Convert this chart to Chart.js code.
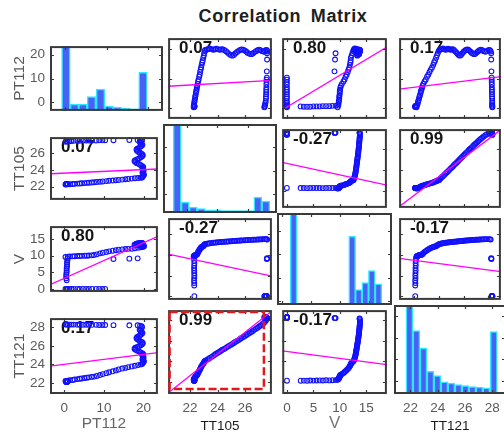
<!DOCTYPE html>
<html>
<head>
<meta charset="utf-8">
<title>Correlation Matrix</title>
<script src="https://cdn.jsdelivr.net/npm/chart.js@4.4.1/dist/chart.umd.min.js"></script>
<style>
  html, body { margin: 0; padding: 0; background: #fff; overflow: hidden; }
  #fig { position: relative; width: 504px; height: 436px; overflow: hidden; background: #fff; }
  #fig canvas { position: absolute; }
  #title {
    position: absolute; left: 0; top: 7px; width: 566px; text-align: center;
    font: bold 18px "Liberation Sans", Arial, sans-serif; line-height: 18px;
    letter-spacing: 0.6px; word-spacing: 4px; color: #1e1e1e;
  }
</style>
</head>
<body>
<div id="fig"><div id="title">Correlation Matrix</div></div>
<script>
const varNames = ['PT112', 'TT105', 'V', 'TT121'];
const axisMin = [-3.6, 20.4, -0.9, 20.8];
const axisMax = [23.6, 27.95, 18.9, 29.0];
const tickValues = [[0, 10, 20], [22, 24, 26], [0, 5, 10, 15], [22, 24, 26, 28]];

// one value per sample, same order in every array
const pt112 = [
  0.6, 0.6, 0.5, 0.5, 0.5, 0.6, 0.6, 0.6, 0.7, 0.7, 0.7, 0.8, 0.8,
  0.3, 0.9, 1.4, 2.1, 2.6, 3.3, 3.9, 4.4, 5.1, 5.7, 6.2, 6.9, 7.5,
  8.2, 9.0, 9.7, 10.6, 11.3, 12.2, 13.0, 13.7, 14.6, 15.4, 16.1, 17.0, 17.8, 18.6, 19.3,
  19.6, 19.8, 19.9, 20.1, 19.9, 19.7, 19.8, 20.0, 19.9, 19.7, 19.8, 19.9, 19.6, 19.2, 18.8,
  18.3, 17.9, 17.7, 17.9, 18.4, 18.9, 19.3, 19.6, 19.8, 19.7, 19.4, 19.0, 18.6, 18.3, 18.2,
  18.4, 18.8, 19.2, 19.5, 19.7, 19.5, 19.2, 19.0, 19.3, 19.6, 19.5, 19.1,
  18.5, 16.4, 12.4, 10.3, 9.6, 8.8, 8.0, 7.0, 6.2, 5.5, 4.7, 3.9, 3.3, 2.4, 1.8, 1.3, 0.9, 0.6, 0.3
];
const tt105 = [
  22.31, 22.30, 22.30, 22.29, 22.30, 22.31, 22.30, 22.30, 22.29, 22.30, 22.31, 22.30, 22.30,
  22.26, 22.27, 22.29, 22.31, 22.33, 22.36, 22.37, 22.40, 22.42, 22.45, 22.47, 22.49, 22.52,
  22.55, 22.58, 22.62, 22.66, 22.70, 22.73, 22.77, 22.80, 22.84, 22.88, 22.92, 22.96, 23.00, 23.03, 23.06,
  23.10, 23.22, 23.33, 23.43, 23.56, 23.68, 23.79, 23.89, 24.02, 24.14, 24.25, 24.35, 24.48, 24.61, 24.71,
  24.82, 24.95, 25.07, 25.18, 25.28, 25.41, 25.53, 25.64, 25.74, 25.87, 25.99, 26.10, 26.20, 26.33, 26.45,
  26.56, 26.66, 26.79, 26.91, 27.02, 27.12, 27.25, 27.37, 27.46, 27.53, 27.58, 27.60,
  27.60, 27.60, 27.58, 27.58, 27.56, 27.56, 27.55, 27.55, 27.54, 27.54, 27.53, 27.52, 27.52, 27.50, 27.48, 27.46, 27.44, 27.42, 27.40
];
const vValues = [
  0.0, 2.6, 3.2, 3.8, 4.4, 5.0, 5.6, 6.2, 6.8, 7.4, 8.0, 8.6, 9.2,
  9.6, 9.7, 9.75, 9.8, 9.85, 9.9, 9.9, 9.95, 10.0, 10.0, 10.05, 10.1, 10.2,
  10.4, 10.7, 10.9, 11.1, 11.3, 11.5, 11.65, 11.8, 11.9, 12.0, 12.05, 12.1, 12.25, 12.4, 12.55,
  12.62, 12.70, 12.76, 12.82, 12.88, 12.93, 12.97, 13.01, 13.05, 13.08, 13.11, 13.14, 13.17, 13.20, 13.23,
  13.26, 13.29, 13.32, 13.35, 13.38, 13.41, 13.44, 13.47, 13.50, 13.52, 13.55, 13.57, 13.60, 13.62, 13.64,
  13.66, 13.68, 13.70, 13.72, 13.74, 13.76, 13.78, 13.80, 13.81, 13.80, 13.76, 13.72,
  9.2, 9.1, 9.0, 0, 0, 0, 0, 0, 0, 0, 0, 0, 0, 0, 0, 0, 0, 0, 0
];
const tt121 = [
  22.10, 22.10, 22.11, 22.10, 22.12, 22.11, 22.12, 22.13, 22.12, 22.14, 22.13, 22.15, 22.16,
  22.20, 22.24, 22.29, 22.32, 22.36, 22.41, 22.44, 22.48, 22.53, 22.56, 22.60, 22.65, 22.68,
  22.75, 22.85, 22.95, 23.05, 23.15, 23.25, 23.35, 23.45, 23.55, 23.62, 23.70, 23.78, 23.85, 23.92, 24.00,
  24.05, 24.14, 24.23, 24.33, 24.43, 24.53, 24.63, 24.73, 24.83, 24.93, 25.02, 25.12, 25.21, 25.31, 25.41,
  25.50, 25.60, 25.69, 25.79, 25.88, 25.98, 26.07, 26.17, 26.27, 26.37, 26.46, 26.56, 26.66, 26.76, 26.86,
  26.96, 27.07, 27.17, 27.28, 27.39, 27.50, 27.62, 27.75, 27.88, 28.02, 28.12, 28.18,
  28.22, 28.22, 28.24, 28.25, 28.26, 28.26, 28.27, 28.27, 28.28, 28.28, 28.28, 28.29, 28.29, 28.30, 28.30, 28.30, 28.30, 28.31, 28.31
];

const corrLabels = [
  ['', '0.07', '0.80', '0.17'],
  ['0.07', '', '-0.27', '0.99'],
  ['0.80', '-0.27', '', '-0.17'],
  ['0.17', '0.99', '-0.17', '']
];

// fitted lines: row = intercept + slope * column
const fitSlope = [
  [0, 0.265, 1.071, 0.512],
  [0.021, 0, -0.110, 0.902],
  [0.534, -0.707, 0, -0.391],
  [0.053, 1.06, -0.0687, 0]
];
const fitIntercept = [
  [0, 1.99, 0.36, -4.25],
  [23.62, 0, 24.66, 1.74],
  [3.20, 24.63, 0, 17.28],
  [24.01, -0.72, 24.96, 0]
];

// diagonal histograms (bin centres in the variable's units, heights on a 0-30 scale)
const histCenters = [
  [0.23, 2.3, 4.32, 6.39, 8.56, 10.65, 12.58, 14.58, 16.6, 18.79, 21.07],
  [21.34, 21.87, 22.4, 22.94, 23.47, 24.01, 24.54, 25.08, 25.61, 26.14, 26.68, 27.21],
  [1.97, 4.22, 10.82, 12.04, 13.17, 14.3, 15.43, 16.56],
  [21.93, 22.44, 22.96, 23.47, 23.98, 24.49, 25.0, 25.52, 26.03, 26.54, 27.05, 27.56, 28.11]
];
const histCounts = [
  [40, 3.2, 3.2, 6.6, 10.1, 2.1, 1.8, 1.3, 1.0, 17.9, 0.4],
  [40, 3.7, 2.0, 1.5, 1.1, 1.1, 0.8, 0.8, 0.8, 0.8, 5.4, 4.0],
  [40, 0.5, 0.5, 22.4, 5.0, 7.3, 11.2, 6.9],
  [40, 21.4, 15.5, 7.6, 6.2, 4.1, 3.7, 3.2, 2.8, 2.5, 2.3, 2.1, 21.0]
];
const countMax = 30;

const samples = [pt112, tt105, vValues, tt121];

// layout of the grid on the page
const colEdges = [[50, 163], [163, 277], [277, 392], [394, 506]];
const rowEdges = [[33, 124], [124, 213], [213, 305], [305, 394]];
const barPx = [8.6, 8, 6.8, 7];
const FONT = '"Liberation Sans", Arial, sans-serif';
const bottomTitleStyle = [
  { size: 15.5, color: '#666666', pad: 3 },
  { size: 13.5, color: '#1a1a1a', pad: 2 },
  { size: 17, color: '#777777', pad: 2 },
  { size: 13.5, color: '#1a1a1a', pad: 2 }
];

Chart.defaults.font.family = FONT;

const panelDecor = {
  id: 'panelDecor',
  beforeDatasetsDraw(chart, args, opts) {
    if (!opts.label) return;
    const { ctx, chartArea: a } = chart;
    ctx.save();
    ctx.font = 'bold 17px ' + FONT;
    ctx.fillStyle = '#151515';
    ctx.textBaseline = 'alphabetic';
    ctx.fillText(opts.label, a.left + 11, a.top + 15);
    ctx.restore();
  },
  afterDatasetsDraw(chart, args, opts) {
    const { ctx, chartArea: a, scales } = chart;
    ctx.save();
    ctx.strokeStyle = '#3a3a3a';
    ctx.lineWidth = 1.2;
    ctx.beginPath();
    scales.x.ticks.forEach(t => {
      const px = Math.round(scales.x.getPixelForValue(t.value)) + 0.5;
      ctx.moveTo(px, a.top); ctx.lineTo(px, a.top + 4);
      ctx.moveTo(px, a.bottom); ctx.lineTo(px, a.bottom - 4);
    });
    scales.y.ticks.forEach(t => {
      const py = Math.round(scales.y.getPixelForValue(t.value)) + 0.5;
      ctx.moveTo(a.left, py); ctx.lineTo(a.left + 4, py);
      ctx.moveTo(a.right, py); ctx.lineTo(a.right - 4, py);
    });
    ctx.stroke();
    ctx.lineWidth = 2;
    ctx.strokeRect(a.left + 1, a.top + 1, a.width - 2, a.height - 2);
    if (opts.highlight) {
      ctx.strokeStyle = '#e3171c';
      ctx.lineWidth = 2.5;
      ctx.setLineDash([8, 3.5]);
      ctx.strokeRect(a.left + 1.5, a.top + 2, a.width - 9.5, a.height - 7);
    }
    ctx.restore();
  }
};

function fixedTicks(vals) {
  return scale => { scale.ticks = vals.map(v => ({ value: v })); };
}

function axis(varIdx, horizontal, shown) {
  const cfg = {
    type: 'linear',
    min: axisMin[varIdx],
    max: axisMax[varIdx],
    display: shown,
    offset: false,
    afterBuildTicks: fixedTicks(tickValues[varIdx]),
    grid: { display: false, drawTicks: false, offset: false },
    border: { display: false },
    ticks: {
      autoSkip: false, maxRotation: 0, color: '#5a5a5a',
      font: { size: 13.5 }, padding: horizontal ? 6 : 5
    }
  };
  if (!shown) return cfg;
  if (horizontal) {
    const st = bottomTitleStyle[varIdx];
    cfg.afterFit = s => { s.height = 42; };
    cfg.title = { display: true, text: varNames[varIdx], color: st.color,
      font: { size: st.size }, padding: { top: 0, bottom: st.pad } };
  } else {
    cfg.afterFit = s => { s.width = 50; };
    cfg.title = { display: true, text: varNames[varIdx], color: '#5a5a5a',
      font: { size: 15.5 }, padding: { top: 10, bottom: 0 } };
  }
  return cfg;
}

const fig = document.getElementById('fig');

for (let r = 0; r < 4; r++) {
  for (let c = 0; c < 4; c++) {
    const left = c === 0 ? 0 : colEdges[c][0];
    const right = colEdges[c][1];
    const top = rowEdges[r][0];
    const bottom = r === 3 ? 436 : rowEdges[r][1];
    const canvas = document.createElement('canvas');
    canvas.width = right - left;
    canvas.height = bottom - top;
    canvas.style.left = left + 'px';
    canvas.style.top = top + 'px';
    canvas.style.width = (right - left) + 'px';
    canvas.style.height = (bottom - top) + 'px';
    fig.appendChild(canvas);

    const scales = { x: axis(c, true, r === 3), y: axis(r, false, c === 0) };
    let config;

    if (r === c) {
      scales.yc = { type: 'linear', min: 0, max: countMax, display: false };
      config = {
        type: 'bar',
        data: {
          datasets: [{
            data: histCenters[c].map((x, i) => ({ x: x, y: histCounts[c][i] })),
            yAxisID: 'yc',
            backgroundColor: '#4862f6',
            borderColor: '#2ee8ff',
            borderWidth: 1.5,
            borderSkipped: false,
            barThickness: barPx[c]
          }]
        }
      };
    } else {
      const n = Math.min(samples[c].length, samples[r].length);
      const pts = [];
      for (let i = 0; i < n; i++) pts.push({ x: samples[c][i], y: samples[r][i] });
      const fit = x => fitIntercept[r][c] + fitSlope[r][c] * x;
      config = {
        type: 'scatter',
        data: {
          datasets: [
            {
              data: [{ x: axisMin[c], y: fit(axisMin[c]) }, { x: axisMax[c], y: fit(axisMax[c]) }],
              showLine: true, pointRadius: 0, borderColor: '#ff00ff', borderWidth: 1.3
            },
            {
              data: pts,
              pointRadius: 2.4, pointBorderWidth: 1.1,
              pointBorderColor: '#1212ff', pointBackgroundColor: 'rgba(0,0,0,0)'
            }
          ]
        }
      };
    }

    config.options = {
      responsive: false,
      animation: false,
      devicePixelRatio: 1,
      events: [],
      layout: { padding: 0 },
      scales: scales,
      plugins: {
        legend: { display: false },
        tooltip: { enabled: false },
        panelDecor: { label: corrLabels[r][c], highlight: r === 3 && c === 1 }
      }
    };
    config.plugins = [panelDecor];
    new Chart(canvas.getContext('2d'), config);
  }
}
</script>
</body>
</html>
